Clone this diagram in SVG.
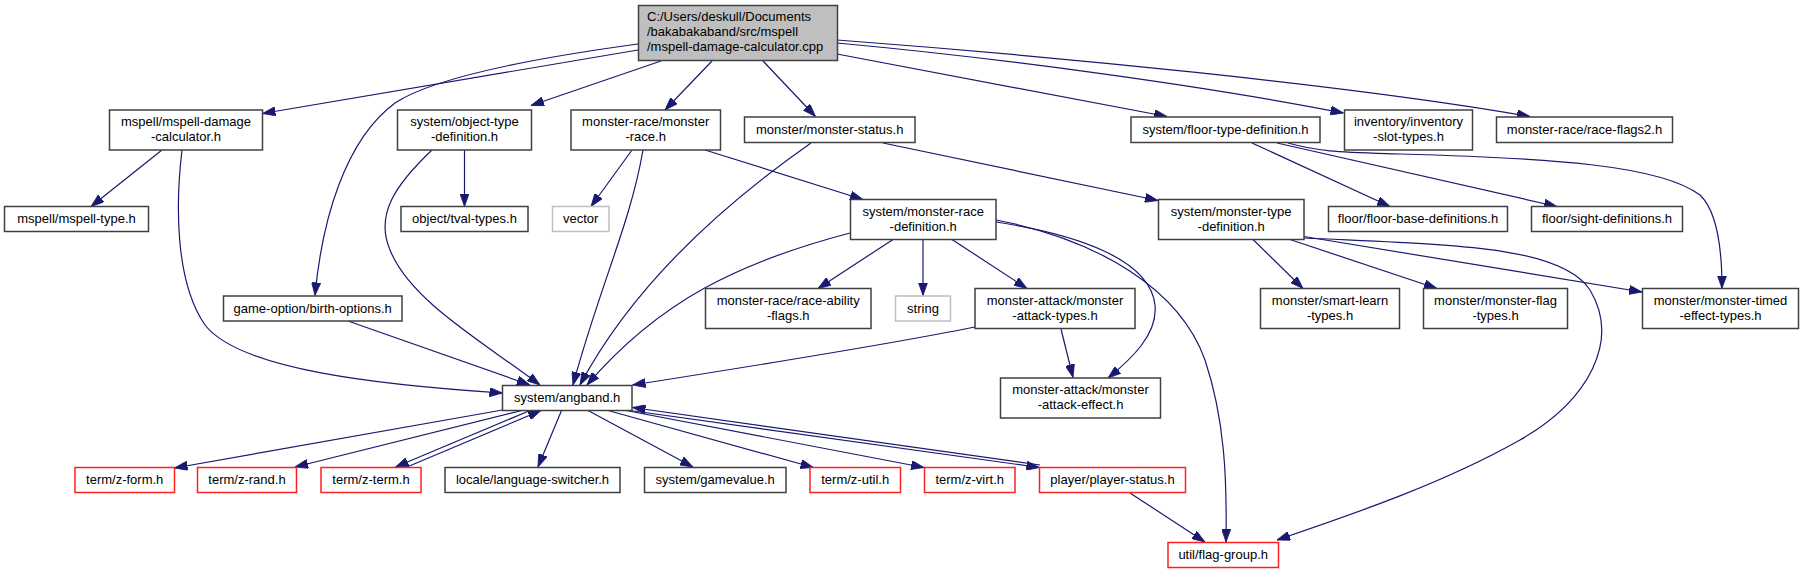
<svg xmlns="http://www.w3.org/2000/svg" width="1804" height="573" viewBox="0 0 1804 573">
<style>
text{font-family:"Liberation Sans",Arial,sans-serif;font-size:13px;fill:#000;text-anchor:middle}
text.l{text-anchor:start}
rect{fill:#fff;stroke:#404040;stroke-width:1.5}
rect.main{fill:#bfbfbf}
rect.red{stroke:#ff2020}
rect.ext{stroke:#bfbfbf}
#edges path{fill:none;stroke:#191970;stroke-width:1.2;marker-end:url(#arr)}
</style>
<defs>
<marker id="arr" markerUnits="userSpaceOnUse" markerWidth="13" markerHeight="9.2" viewBox="0 0 13 9.2" refX="13" refY="4.6" orient="auto">
<path d="M0,0 L13,4.6 L0,9.2 z" fill="#191970" stroke="#191970" stroke-width="0.8"/>
</marker>
</defs>
<rect x="0" y="0" width="1804" height="573" style="fill:#fff;stroke:none"/>
<g id="edges">
<path d="M638,50 L262.5,113.5"/>
<path d="M661,61 L531,105.5"/>
<path d="M712,61 L665,110"/>
<path d="M763,61 L815.5,116.5"/>
<path d="M837,54 L1167,116.5"/>
<path d="M837,43 C1000,58 1200,85 1343.5,113"/>
<path d="M837,40 C1050,56 1350,85 1530,116.5"/>
<path d="M638,44 C520,60 430,80 395,103 C345,140 322,220 315,295.5"/>
<path d="M162,150 L91,206.5"/>
<path d="M182,150 C176,200 174,280 205,325 C240,370 380,385 502.5,393"/>
<path d="M464.5,150 L464.5,206.5"/>
<path d="M432,150 C395,185 375,215 390,250 C410,300 480,340 540,385"/>
<path d="M632,150 L591,206.5"/>
<path d="M643,150 C630,225 600,285 573,385"/>
<path d="M811,143 C711,213 629.5,292 580,385"/>
<path d="M348,321 L530,385"/>
<path d="M850,233 C740,262 660,300 587,385"/>
<path d="M975,327 C900,342 760,365 632.5,385"/>
<path d="M705,150 L863,199.5"/>
<path d="M883,143 L1158,200.5"/>
<path d="M1252,143 L1390,206.5"/>
<path d="M1277,143 L1557,206.5"/>
<path d="M1288,143 C1320,152 1340,152 1400,154 C1550,158 1660,165 1700,195 C1718,212 1722,250 1722,288.5"/>
<path d="M893,239.5 L818,288.5"/>
<path d="M923,239.5 L923,295.5"/>
<path d="M952,239.5 L1027,288.5"/>
<path d="M996,222 C1080,235 1150,260 1155,305 C1158,335 1130,360 1108,378"/>
<path d="M996,220 C1100,240 1180,290 1205,360 C1225,420 1227,480 1226,542"/>
<path d="M1253,239.5 L1303,288.5"/>
<path d="M1290,239.5 L1437,288.5"/>
<path d="M1304,236.5 L1642,292"/>
<path d="M1304,238 C1450,245 1560,245 1590,290 C1620,340 1590,400 1520,440 C1440,485 1350,515 1277,540"/>
<path d="M1061,329 L1073,377.5"/>
<path d="M502.5,410 L174.5,468"/>
<path d="M522,410.5 L295,467"/>
<path d="M530,410.5 L395.5,467"/>
<path d="M407,467 L541,410.5"/>
<path d="M561.5,410.5 L538,467"/>
<path d="M588,410.5 L693,467"/>
<path d="M608,410.5 L813.5,467.5"/>
<path d="M626,410.5 L924,467.5"/>
<path d="M630,410.5 L1039.5,467.5"/>
<path d="M1040,465 L632.5,407.5"/>
<path d="M1130,493 L1205,542"/>
</g>
<g id="n_main"><rect class="main" x="638.5" y="5.5" width="199" height="55"/><text class="l" x="647" y="21">C:/Users/deskull/Documents</text><text class="l" x="647" y="36">/bakabakaband/src/mspell</text><text class="l" x="647" y="51">/mspell-damage-calculator.cpp</text></g>
<g id="n_mdc"><rect x="109.5" y="110" width="153" height="40"/><text x="186" y="126">mspell/mspell-damage</text><text x="186" y="141">-calculator.h</text></g>
<g id="n_otd"><rect x="397.5" y="110" width="134" height="40"/><text x="464.5" y="126">system/object-type</text><text x="464.5" y="141">-definition.h</text></g>
<g id="n_mr"><rect x="571" y="110" width="149.5" height="40"/><text x="645.7" y="126">monster-race/monster</text><text x="645.7" y="141">-race.h</text></g>
<g id="n_ms"><rect x="744.5" y="117" width="170.5" height="25.5"/><text x="829.7" y="133.5">monster/monster-status.h</text></g>
<g id="n_ftd"><rect x="1131" y="117" width="189" height="25.5"/><text x="1225.5" y="133.5">system/floor-type-definition.h</text></g>
<g id="n_inv"><rect x="1344.5" y="110" width="128" height="40"/><text x="1408.5" y="126">inventory/inventory</text><text x="1408.5" y="141">-slot-types.h</text></g>
<g id="n_rf2"><rect x="1496.5" y="117" width="176" height="25.5"/><text x="1584.5" y="133.5">monster-race/race-flags2.h</text></g>
<g id="n_mst"><rect x="4.5" y="206.5" width="144" height="25"/><text x="76.5" y="223">mspell/mspell-type.h</text></g>
<g id="n_tval"><rect x="401" y="206.5" width="127" height="25"/><text x="464.5" y="223">object/tval-types.h</text></g>
<g id="n_vec"><rect class="ext" x="552.5" y="206.5" width="56.5" height="25"/><text x="580.7" y="223">vector</text></g>
<g id="n_mrd"><rect x="850.5" y="199.5" width="145.5" height="40"/><text x="923.2" y="215.5">system/monster-race</text><text x="923.2" y="230.5">-definition.h</text></g>
<g id="n_mtd"><rect x="1158.5" y="199.5" width="145.5" height="40"/><text x="1231.2" y="215.5">system/monster-type</text><text x="1231.2" y="230.5">-definition.h</text></g>
<g id="n_fbd"><rect x="1328.5" y="206.5" width="179" height="25"/><text x="1418" y="223">floor/floor-base-definitions.h</text></g>
<g id="n_sight"><rect x="1531.5" y="206.5" width="151" height="25"/><text x="1607" y="223">floor/sight-definitions.h</text></g>
<g id="n_birth"><rect x="223.5" y="296" width="178.5" height="25"/><text x="312.7" y="312.5">game-option/birth-options.h</text></g>
<g id="n_raf"><rect x="705.5" y="288.5" width="165.5" height="40"/><text x="788.2" y="304.5">monster-race/race-ability</text><text x="788.2" y="319.5">-flags.h</text></g>
<g id="n_str"><rect class="ext" x="895.5" y="296" width="55" height="25"/><text x="923" y="312.5">string</text></g>
<g id="n_mat"><rect x="975" y="288.5" width="160" height="40"/><text x="1055" y="304.5">monster-attack/monster</text><text x="1055" y="319.5">-attack-types.h</text></g>
<g id="n_slt"><rect x="1260.5" y="288.5" width="139" height="40"/><text x="1330" y="304.5">monster/smart-learn</text><text x="1330" y="319.5">-types.h</text></g>
<g id="n_mft"><rect x="1423.5" y="288.5" width="144" height="40"/><text x="1495.5" y="304.5">monster/monster-flag</text><text x="1495.5" y="319.5">-types.h</text></g>
<g id="n_mte"><rect x="1642.5" y="288.5" width="156" height="40"/><text x="1720.5" y="304.5">monster/monster-timed</text><text x="1720.5" y="319.5">-effect-types.h</text></g>
<g id="n_mae"><rect x="1000.5" y="378" width="160" height="40"/><text x="1080.5" y="394">monster-attack/monster</text><text x="1080.5" y="409">-attack-effect.h</text></g>
<g id="n_ang"><rect x="502.5" y="385.5" width="129.5" height="25"/><text x="567.2" y="402">system/angband.h</text></g>
<g id="n_zform"><rect class="red" x="75" y="467.5" width="99.5" height="25"/><text x="124.7" y="484">term/z-form.h</text></g>
<g id="n_zrand"><rect class="red" x="197.5" y="467.5" width="99" height="25"/><text x="247" y="484">term/z-rand.h</text></g>
<g id="n_zterm"><rect class="red" x="321" y="467.5" width="100" height="25"/><text x="371" y="484">term/z-term.h</text></g>
<g id="n_lang"><rect x="445" y="467.5" width="175" height="25"/><text x="532.5" y="484">locale/language-switcher.h</text></g>
<g id="n_gv"><rect x="644.5" y="467.5" width="141.5" height="25"/><text x="715.2" y="484">system/gamevalue.h</text></g>
<g id="n_zutil"><rect class="red" x="810" y="467.5" width="90.5" height="25"/><text x="855.2" y="484">term/z-util.h</text></g>
<g id="n_zvirt"><rect class="red" x="924.5" y="467.5" width="90.5" height="25"/><text x="969.7" y="484">term/z-virt.h</text></g>
<g id="n_ps"><rect class="red" x="1039.5" y="467.5" width="146" height="25"/><text x="1112.5" y="484">player/player-status.h</text></g>
<g id="n_fg"><rect class="red" x="1168" y="542.5" width="110.5" height="25"/><text x="1223.2" y="559">util/flag-group.h</text></g>
</svg>
